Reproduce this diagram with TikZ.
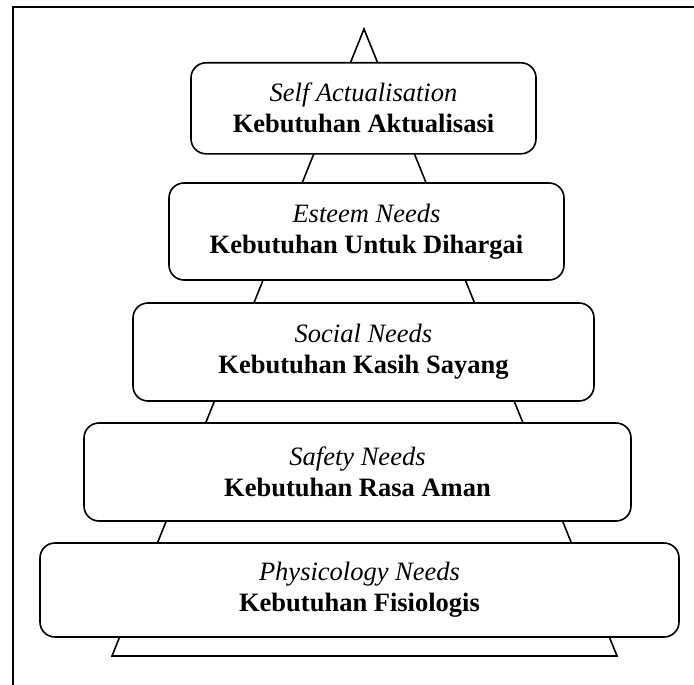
\documentclass[tikz,border=0pt]{standalone}
\usepackage{fontspec}
\setmainfont{Liberation Serif}
\begin{document}
\begin{tikzpicture}[x=1pt,y=-1pt,
  level/.style={draw, line width=1.6pt, rounded corners=15pt, fill=white,
    align=center, inner sep=0pt, font=\fontsize{26.5pt}{31pt}\selectfont},
  frame/.style={line width=1.7pt},
  pyr/.style={line width=1.6pt, line join=miter}]
\useasboundingbox (0,0) rectangle (694,685);
\draw[frame] (694,6.7) -- (12.7,6.7) -- (12.7,690);
\coordinate (apex) at (364,29);
\coordinate (bl) at (112,656);
\coordinate (br) at (617,656);
\draw[pyr] (apex) -- (br) -- (bl) -- cycle;
\node[level, minimum width=345pt, minimum height=91pt] (l5) at (363.5,108.3)
  {\textit{Self Actualisation}\\\textbf{Kebutuhan Aktualisasi}};
\node[level, minimum width=395pt, minimum height=97pt] (l4) at (366.5,231.5)
  {\textit{Esteem Needs}\\\textbf{Kebutuhan Untuk Dihargai}};
\node[level, minimum width=461pt, minimum height=98pt] (l3) at (363.5,352)
  {\textit{Social Needs}\\\textbf{Kebutuhan Kasih Sayang}};
\node[level, minimum width=547pt, minimum height=98pt] (l2) at (357.5,472)
  {\textit{Safety Needs}\\\textbf{Kebutuhan Rasa Aman}};
\node[level, minimum width=639pt, minimum height=94pt] (l1) at (359.5,590)
  {\textit{Physicology Needs}\\\textbf{Kebutuhan Fisiologis}};
\end{tikzpicture}
\end{document}
